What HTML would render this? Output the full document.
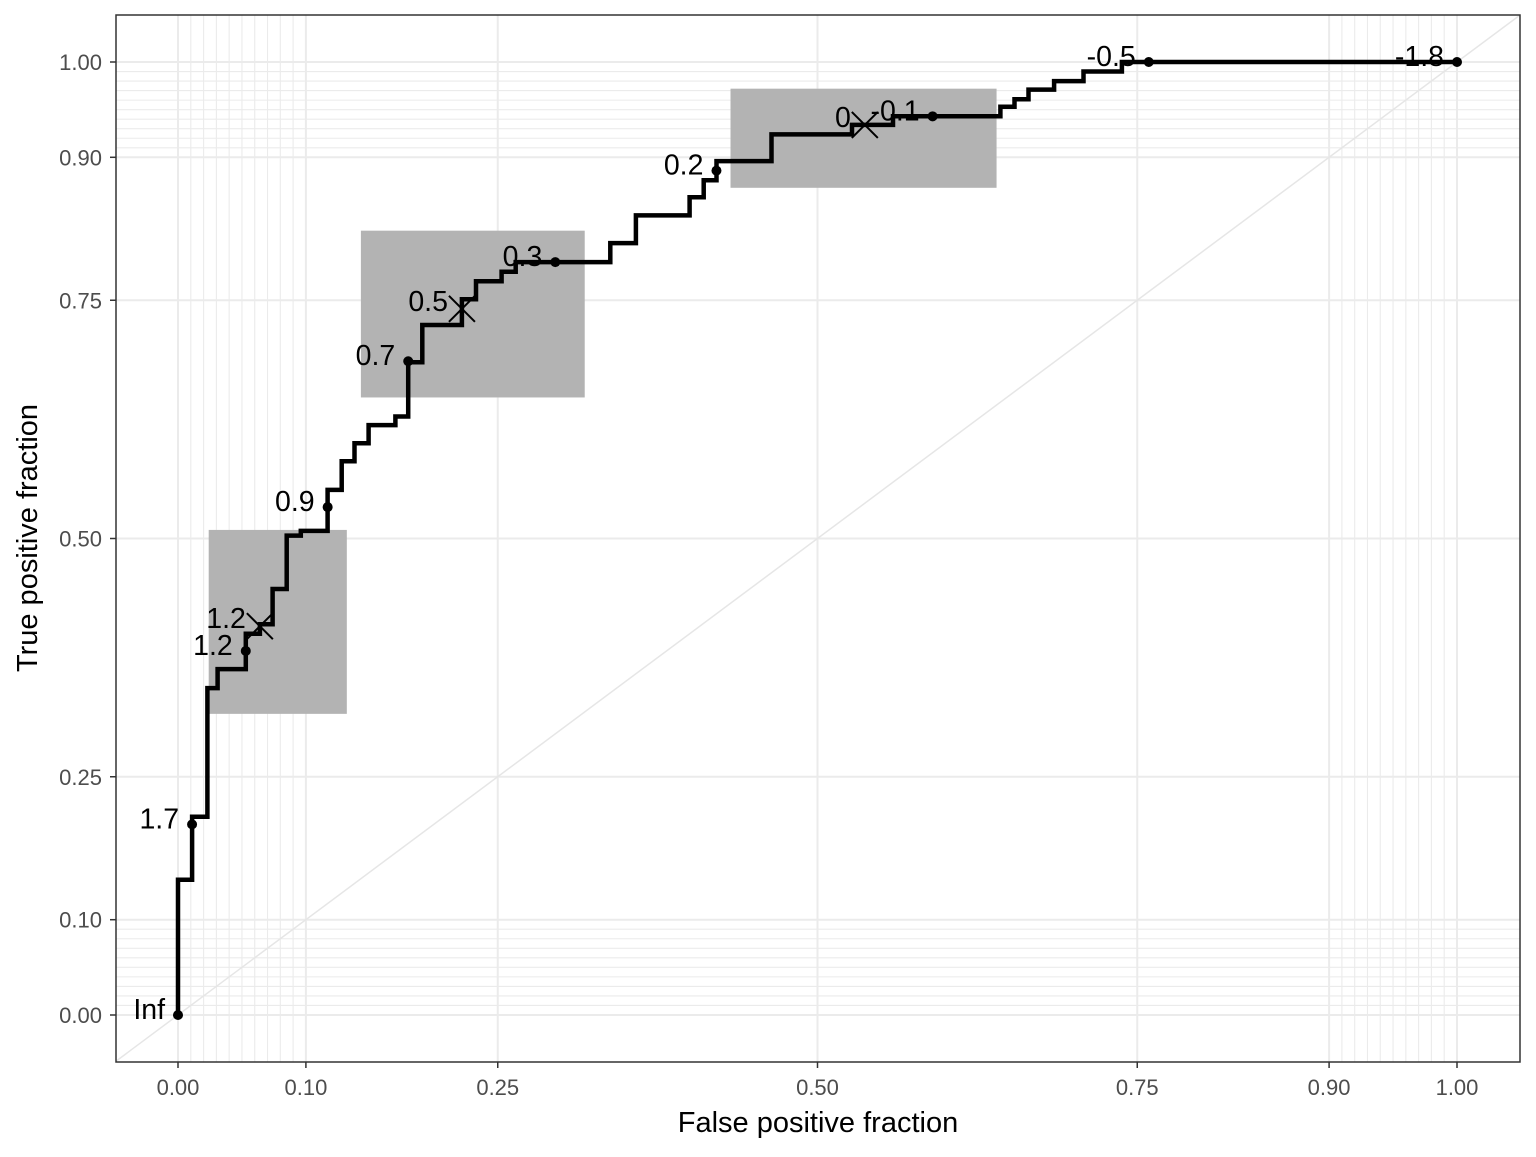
<!DOCTYPE html>
<html><head><meta charset="utf-8"><style>
html,body{margin:0;padding:0;background:#fff;}
svg text{font-family:"Liberation Sans",Arial,sans-serif;}
</style></head><body>
<svg id="chart" width="1536" height="1152" xmlns="http://www.w3.org/2000/svg"></svg>
<script>
// data
const stepX = [0,0,0.011,0.011,0.023,0.023,0.031,0.031,0.053,0.053,0.064,0.064,0.074,0.074,0.085,0.085,0.096,0.096,0.117,0.117,0.128,0.128,0.138,0.138,0.149,0.149,0.170,0.170,0.180,0.180,0.191,0.191,0.222,0.222,0.233,0.233,0.253,0.253,0.264,0.264,0.338,0.338,0.358,0.358,0.400,0.400,0.411,0.411,0.421,0.421,0.464,0.464,0.527,0.527,0.559,0.559,0.643,0.643,0.654,0.654,0.665,0.665,0.685,0.685,0.708,0.708,0.738,0.738,1.0];
const stepY = [0,0.142,0.142,0.208,0.208,0.343,0.343,0.363,0.363,0.400,0.400,0.410,0.410,0.447,0.447,0.503,0.503,0.508,0.508,0.551,0.551,0.581,0.581,0.600,0.600,0.619,0.619,0.628,0.628,0.685,0.685,0.724,0.724,0.751,0.751,0.770,0.770,0.780,0.780,0.790,0.790,0.810,0.810,0.839,0.839,0.858,0.858,0.876,0.876,0.896,0.896,0.924,0.924,0.934,0.934,0.943,0.943,0.953,0.953,0.961,0.961,0.971,0.971,0.980,0.980,0.990,0.990,1.0,1.0];
const ptX = [0,0.011,0.053,0.117,0.180,0.295,0.421,0.590,0.759,1.0];
const ptY = [0,0.200,0.382,0.533,0.686,0.790,0.886,0.943,1.0,1.0];
const ptLabels = ["Inf","1.7","1.2","0.9","0.7","0.3","0.2","-0.1","-0.5","-1.8"];
const crossX = [0.064,0.222,0.537];
const crossY = [0.408,0.741,0.934];
const crossLabels = ["1.2","0.5","0"];
const boxX0 = [0.024,0.143,0.432];
const boxX1 = [0.132,0.318,0.640];
const boxY0 = [0.316,0.648,0.868];
const boxY1 = [0.509,0.823,0.972];
const xTicks = [0,0.1,0.25,0.5,0.75,0.9,1.0];
const xTickLabels = ["0.00","0.10","0.25","0.50","0.75","0.90","1.00"];
const yTicks = [0,0.1,0.25,0.5,0.75,0.9,1.0];
const yTickLabels = ["0.00","0.10","0.25","0.50","0.75","0.90","1.00"];

const NS="http://www.w3.org/2000/svg";
const svg=document.getElementById('chart');
const PL=116,PR=1520,PT=15,PB=1062;
const sx=v=>178+v*1279;
const sy=v=>1015-v*953;
function el(tag,attrs,parent){const e=document.createElementNS(NS,tag);for(const k in attrs)e.setAttribute(k,attrs[k]);(parent||svg).appendChild(e);return e;}

const defs=el('defs',{});
const cp=el('clipPath',{id:'clip'},defs);
el('rect',{x:PL,y:PT,width:PR-PL,height:PB-PT},cp);

const grid=el('g',{'clip-path':'url(#clip)'});


const minor=[];
for(let i=1;i<10;i++){minor.push(i/100);minor.push(0.9+i/100);}
minor.forEach(v=>{
  el('line',{x1:sx(v),x2:sx(v),y1:PT,y2:PB,stroke:'#ebebeb','stroke-width':1.1},grid);
  el('line',{y1:sy(v),y2:sy(v),x1:PL,x2:PR,stroke:'#ebebeb','stroke-width':1.1},grid);
});
xTicks.forEach(v=>el('line',{x1:sx(v),x2:sx(v),y1:PT,y2:PB,stroke:'#ebebeb','stroke-width':2},grid));
yTicks.forEach(v=>el('line',{y1:sy(v),y2:sy(v),x1:PL,x2:PR,stroke:'#ebebeb','stroke-width':2},grid));
const diag=el('line',{x1:sx(-0.1),y1:sy(-0.1),x2:sx(1.1),y2:sy(1.1),stroke:'#e6e6e6','stroke-width':1.5},grid);



const plot=el('g',{'clip-path':'url(#clip)'});
for(let i=0;i<boxX0.length;i++){
  const r=el('rect',{x:sx(boxX0[i]),y:sy(boxY1[i]),width:sx(boxX1[i])-sx(boxX0[i]),height:sy(boxY0[i])-sy(boxY1[i]),fill:'#b3b3b3'},plot);
  
  
}
let d='';
for(let i=0;i<stepX.length;i++)d+=(i?'L':'M')+sx(stepX[i]).toFixed(1)+' '+sy(stepY[i]).toFixed(1);
const line=el('path',{d:d,fill:'none',stroke:'#000','stroke-width':4.5,'stroke-linejoin':'miter'},plot);


for(let i=0;i<ptX.length;i++){
  const c=el('circle',{cx:sx(ptX[i]),cy:sy(ptY[i]),r:5,fill:'#000'},plot);
  
  
  const t=el('text',{x:sx(ptX[i])-13,y:sy(ptY[i])+4,'text-anchor':'end','font-size':28.5,fill:'#000'},plot);
  t.textContent=ptLabels[i];
  
  
}
for(let i=0;i<crossX.length;i++){
  const cx=sx(crossX[i]),cy=sy(crossY[i]);
  const g=el('path',{d:`M${cx-13} ${cy-13}L${cx+13} ${cy+13}M${cx-13} ${cy+13}L${cx+13} ${cy-13}`,stroke:'#000','stroke-width':2},plot);
  
  
  const t=el('text',{x:cx-14,y:cy+2,'text-anchor':'end','font-size':28.5,fill:'#000'},plot);
  t.textContent=crossLabels[i];
  
  
}

const frame=el('rect',{x:PL,y:PT,width:PR-PL,height:PB-PT,fill:'none',stroke:'#333','stroke-width':1.5});



xTicks.forEach((v,i)=>{
  el('line',{x1:sx(v),x2:sx(v),y1:PB,y2:PB+6,stroke:'#333','stroke-width':1.5});
  const t=el('text',{x:sx(v),y:1095,'text-anchor':'middle','font-size':22,fill:'#4d4d4d'});
  t.textContent=xTickLabels[i];
  
  
});
yTicks.forEach((v,i)=>{
  el('line',{x1:PL-6,x2:PL,y1:sy(v),y2:sy(v),stroke:'#333','stroke-width':1.5});
  const t=el('text',{x:102,y:sy(v)+8,'text-anchor':'end','font-size':22,fill:'#4d4d4d'});
  t.textContent=yTickLabels[i];
  
  
});
const xt=el('text',{x:818,y:1132,'text-anchor':'middle','font-size':29,fill:'#000'});
xt.textContent='False positive fraction';


const yt=el('text',{x:0,y:0,'text-anchor':'middle','font-size':29,fill:'#000',transform:'translate(37,538) rotate(-90)'});
yt.textContent='True positive fraction';


</script>
</body></html>
